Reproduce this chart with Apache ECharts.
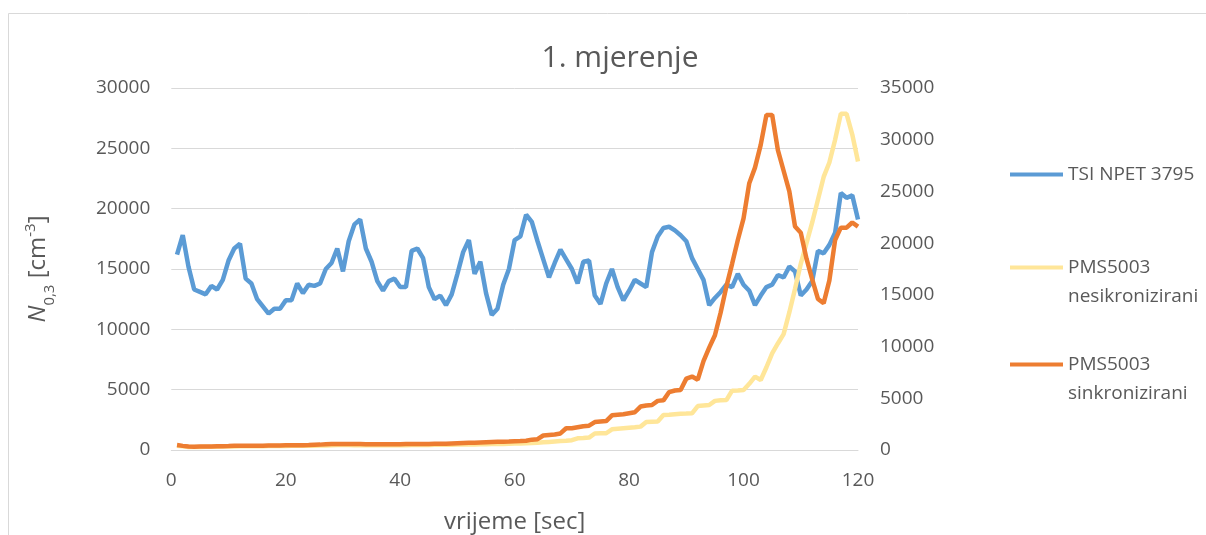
<!DOCTYPE html>
<html>
<head>
<meta charset="utf-8">
<script src="https://cdn.jsdelivr.net/npm/echarts@6/dist/echarts.min.js"></script>
<style>
  html, body { margin: 0; padding: 0; background: #fff; }
  #chart { width: 1206px; height: 535px; }
</style>
</head>
<body>
<div id="chart"></div>
<script>
// vrijeme [sec]
var sekunde = [];
for (var i = 1; i <= 120; i++) sekunde.push(i);

// TSI NPET 3795 (lijeva os)
var tsi = [16200,17800,15200,13300,13100,12900,13600,13300,14100,15700,
  16700,17100,14200,13800,12500,11900,11300,11700,11700,12400,
  12400,13800,13000,13700,13600,13800,15000,15500,16700,14800,
  17300,18700,19100,16700,15600,14000,13200,14000,14200,13500,
  13500,16500,16700,15900,13500,12500,12800,12000,12900,14600,
  16400,17400,14600,15600,13000,11200,11700,13700,15000,17400,
  17700,19500,18900,17300,15800,14300,15500,16600,15800,15000,
  13800,15600,15700,12800,12100,13800,15000,13500,12400,13200,
  14100,13800,13500,16400,17700,18400,18500,18200,17800,17300,
  15900,15000,14100,12000,12600,13100,13700,13500,14600,13700,
  13200,12000,12800,13500,13700,14500,14300,15200,14800,12800,
  13300,14000,16500,16300,17000,18000,21300,20900,21100,19100];

// PMS5003 nesikronizirani (desna os)
var pmsNesink = [420,360,300,290,300,310,310,320,330,340,
  350,360,360,360,370,370,380,380,390,390,
  400,400,410,410,420,430,440,470,490,490,
  480,470,470,460,460,450,450,460,460,470,
  470,480,480,490,490,500,500,510,510,520,
  520,530,540,550,560,570,580,590,600,620,
  640,660,680,700,740,780,820,860,900,950,
  1130,1150,1200,1600,1610,1620,2000,2050,2100,2150,
  2200,2260,2700,2740,2750,3380,3400,3450,3500,3520,
  3550,4250,4300,4350,4750,4800,4830,5740,5760,5800,
  6400,7090,6770,8000,9350,10300,11200,13300,15600,18000,
  20000,22000,24200,26400,27800,30000,32500,32500,30500,27900];

// PMS5003 sinkronizirani (desna os)
var pmsSink = [480,400,330,320,330,340,350,360,370,380,
  400,410,410,410,420,420,430,430,440,450,
  450,460,470,480,500,520,550,580,590,590,
  580,580,570,560,560,550,550,560,560,560,
  570,570,580,590,590,600,600,610,630,650,
  670,690,710,730,750,770,790,800,820,850,
  870,900,1000,1050,1400,1450,1500,1600,2100,2100,
  2200,2300,2350,2700,2750,2800,3350,3400,3450,3550,
  3650,4200,4300,4350,4750,4800,5600,5750,5800,6900,
  7100,6800,8600,9900,11100,13300,15800,18000,20300,22400,
  25800,27300,29500,32400,32400,29000,27000,25000,21600,21000,
  18500,16500,14600,14200,16400,20300,21500,21500,22000,21600];

var lijeveOznake = [0, 5000, 10000, 15000, 20000, 25000, 30000];
var desneOznake = [0, 5000, 10000, 15000, 20000, 25000, 30000, 35000];

function parovi(vrijednosti) {
  return sekunde.map(function (s, idx) { return [s, vrijednosti[idx]]; });
}

var siva = '#595959';
var font = 'Open Sans';
var oznaka = { color: siva, fontSize: 19, fontFamily: font, formatter: function (v) { return String(v); } };
var legendaTekst = { color: siva, fontSize: 19, fontFamily: font, lineHeight: 29 };
var chart = echarts.init(document.getElementById('chart'));

var option = {
  animation: false,
  backgroundColor: '#fff',
  title: {
    text: '1. mjerenje',
    left: 615,
    top: 38,
    textAlign: 'center',
    textStyle: { color: siva, fontSize: 30, fontWeight: 'normal', fontFamily: font }
  },
  graphic: [{
    type: 'rect',
    shape: { x: 8.5, y: 13.5, width: 1210, height: 540 },
    style: { fill: null, stroke: '#d9d9d9', lineWidth: 1 },
    silent: true
  }],
  legend: [
    {
      data: ['TSI NPET 3795'],
      left: 1005, top: 155,
      icon: 'rect', itemWidth: 53, itemHeight: 4,
      textStyle: legendaTekst
    },
    {
      data: ['PMS5003 nesikronizirani'],
      left: 1005, top: 219,
      icon: 'rect', itemWidth: 53, itemHeight: 4,
      formatter: function (n) { return ' \nPMS5003\nnesikronizirani'; },
      textStyle: legendaTekst
    },
    {
      data: ['PMS5003 sinkronizirani'],
      left: 1005, top: 316,
      icon: 'rect', itemWidth: 53, itemHeight: 4,
      formatter: function (n) { return ' \nPMS5003\nsinkronizirani'; },
      textStyle: legendaTekst
    }
  ],
  grid: { left: 171.3, right: 348, top: 88, bottom: 85, outerBoundsMode: 'none' },
  xAxis: {
    type: 'value',
    min: 0, max: 120, interval: 20,
    name: 'vrijeme [sec]',
    nameLocation: 'middle',
    nameGap: 60,
    nameTextStyle: { color: siva, fontSize: 24, fontFamily: font },
    axisLine: { show: true, lineStyle: { color: '#d9d9d9', width: 1 } },
    axisTick: { show: false },
    splitLine: { show: false },
    axisLabel: Object.assign({ margin: 21 }, oznaka)
  },
  yAxis: [
    {
      type: 'value',
      min: lijeveOznake[0], max: lijeveOznake[lijeveOznake.length - 1], interval: 5000,
      name: '{i|N}{sub|0,3}{t| [cm}{sup|-3}{t|]}',
      nameLocation: 'middle',
      nameGap: 118,
      nameRotate: 90,
      nameTextStyle: {
        color: siva, fontSize: 24, fontFamily: font,
        rich: {
          i: { fontSize: 24, fontStyle: 'italic', color: siva, fontFamily: font, lineHeight: 30 },
          t: { fontSize: 24, color: siva, fontFamily: font, lineHeight: 30 },
          sub: { fontSize: 15, color: siva, fontFamily: font, verticalAlign: 'bottom', lineHeight: 30, padding: [0, 0, -4, 0] },
          sup: { fontSize: 15, color: siva, fontFamily: font, verticalAlign: 'top', lineHeight: 30 }
        }
      },
      axisLine: { show: false },
      axisTick: { show: false },
      splitLine: { show: true, lineStyle: { color: '#d9d9d9', width: 1 } },
      axisLabel: Object.assign({ margin: 21 }, oznaka)
    },
    {
      type: 'value',
      min: desneOznake[0], max: desneOznake[desneOznake.length - 1], interval: 5000,
      axisLine: { show: false },
      axisTick: { show: false },
      splitLine: { show: false },
      axisLabel: Object.assign({ margin: 22 }, oznaka)
    }
  ],
  series: [
    {
      name: 'TSI NPET 3795',
      type: 'line',
      yAxisIndex: 0,
      data: parovi(tsi),
      showSymbol: false,
      symbol: 'none',
      color: '#5B9BD5',
      lineStyle: { width: 4.5, color: '#5B9BD5' }
    },
    {
      name: 'PMS5003 nesikronizirani',
      type: 'line',
      yAxisIndex: 1,
      data: parovi(pmsNesink),
      showSymbol: false,
      symbol: 'none',
      color: '#FFE699',
      lineStyle: { width: 4.5, color: '#FFE699' }
    },
    {
      name: 'PMS5003 sinkronizirani',
      type: 'line',
      yAxisIndex: 1,
      data: parovi(pmsSink),
      showSymbol: false,
      symbol: 'none',
      color: '#ED7D31',
      lineStyle: { width: 4.5, color: '#ED7D31' }
    }
  ]
};
chart.setOption(option);
</script>
</body>
</html>
